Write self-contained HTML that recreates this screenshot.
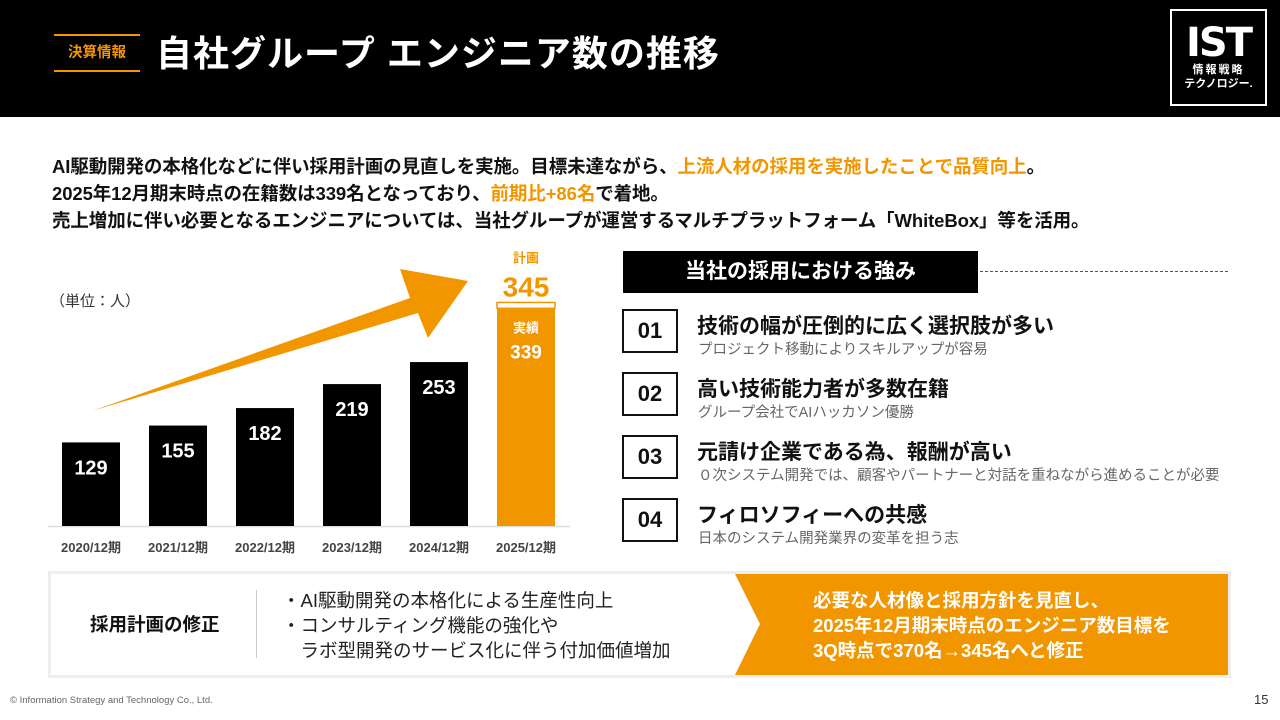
<!DOCTYPE html>
<html><head><meta charset="utf-8">
<style>
*{margin:0;padding:0;box-sizing:border-box}
body{width:1280px;height:720px;background:#fff;position:relative;overflow:hidden;font-family:"Liberation Sans","Noto Sans CJK JP",sans-serif;color:#111}
.abs{position:absolute}
.hdr{left:0;top:0;width:1280px;height:117px;background:#000}
.lead{left:52px;top:153px;font-size:18.5px;font-weight:700;line-height:27px;white-space:nowrap;letter-spacing:-0.1px}
.or{color:#f29600}
.num{width:56px;height:44px;border:2px solid #111;font-size:22px;font-weight:700;text-align:center;line-height:40px}
.pt-t{font-size:21px;font-weight:700;white-space:nowrap}
.pt-s{font-size:14.5px;color:#666;white-space:nowrap}
</style></head><body>
<div class="abs hdr"></div>
<div class="abs" style="left:54px;top:34px;width:86px;height:38px;border-top:2px solid #f29600;border-bottom:2px solid #f29600;color:#f29600;font-size:14.5px;font-weight:700;text-align:center;line-height:34px">決算情報</div>
<div class="abs" style="left:156px;top:25px;color:#fff;font-size:36px;font-weight:700;white-space:nowrap;letter-spacing:1px">自社グループ エンジニア数の推移</div>
<div class="abs" style="left:1170px;top:9px;width:97px;height:97px;border:2px solid #fff;color:#fff;text-align:center">
 <div style="font-size:40px;font-weight:900;line-height:40px;margin-top:12px;letter-spacing:-2px;font-family:'DejaVu Sans','Liberation Sans',sans-serif">IST</div>
 <div style="font-size:11px;font-weight:700;line-height:14px;letter-spacing:2px">情報戦略</div>
 <div style="font-size:11px;font-weight:700;line-height:14px">テクノロジー.</div>
</div>
<div class="abs lead">AI駆動開発の本格化などに伴い採用計画の見直しを実施。目標未達ながら、<span class="or">上流人材の採用を実施したことで品質向上</span>。<br>2025年12月期末時点の在籍数は339名となっており、<span class="or">前期比+86名</span>で着地。<br>売上増加に伴い必要となるエンジニアについては、当社グループが運営するマルチプラットフォーム「WhiteBox」等を活用。</div>
<div class="abs" style="left:50px;top:290px;font-size:15px;color:#333">（単位：人）</div>
<svg class="abs" id="chart" style="left:0;top:0" width="600" height="570"></svg>
<script>
const categories=["2020/12期","2021/12期","2022/12期","2023/12期","2024/12期","2025/12期"];
const values=[129,155,182,219,253,339];
const planValue=[345];
const svg=document.getElementById('chart');
const NS='http://www.w3.org/2000/svg';
const base=526,scale=0.648,x0=62,step=87,bw=58;
const y=v=>base-v*scale;
const x=i=>x0+i*step;
function mk(t,a){const e=document.createElementNS(NS,t);for(const k in a)e.setAttribute(k,a[k]);svg.appendChild(e);return e;}
const ar=mk('polygon',{points:"92,411 410,298 400,269 468,281 428,338 418,313",fill:'#f29600'});


const ax=mk('line',{x1:48,x2:570,y1:base+0.5,y2:base+0.5,stroke:'#ddd','stroke-width':1.5});


values.forEach((v,i)=>{
 const last=i===values.length-1;
 if(last){
  const p=mk('rect',{x:x(i),y:y(planValue[0]),width:bw,height:y(v)-y(planValue[0])+2,fill:'#fff',stroke:'#f29600','stroke-width':1.5});
  
  
 }
 const r=mk('rect',{x:x(i),y:last?y(v)+2:y(v),width:bw,height:last?base-y(v)-2:base-y(v),fill:last?'#f29600':'#000'});
 
 
 const tl=mk('text',{x:x(i)+bw/2,y:last?y(v)+52:Math.min(y(v)+32,base-50),'text-anchor':'middle',fill:'#fff','font-size':last?19:20,'font-weight':700});
 tl.textContent=v;
 
 
 const c=mk('text',{x:x(i)+bw/2,y:552,'text-anchor':'middle',fill:'#444','font-size':13,'font-weight':700});
 c.textContent=categories[i];
 
 
 if(last){
  const a=mk('text',{x:x(i)+bw/2,y:y(v)+26,'text-anchor':'middle',fill:'#fff','font-size':13,'font-weight':700});
  a.textContent='実績';
  
  
  const b=mk('text',{x:x(i)+bw/2,y:y(planValue[0])-6,'text-anchor':'middle',fill:'#f29600','font-size':28,'font-weight':700});
  b.textContent=planValue[0];
  
  
  const d=mk('text',{x:x(i)+bw/2,y:y(planValue[0])-40,'text-anchor':'middle',fill:'#f29600','font-size':13,'font-weight':700});
  d.textContent='計画';
  
  
 }
});
</script>
<div class="abs" style="left:623px;top:251px;width:355px;height:42px;background:#000;color:#fff;font-size:21px;font-weight:700;line-height:42px;padding-left:62px">当社の採用における強み</div>
<div class="abs" style="left:980px;top:271px;width:248px;border-top:1.5px dashed #555"></div>
<div class="abs num" style="left:622px;top:309px">01</div>
<div class="abs pt-t" style="left:697px;top:310px">技術の幅が圧倒的に広く選択肢が多い</div>
<div class="abs pt-s" style="left:698px;top:338px">プロジェクト移動によりスキルアップが容易</div>
<div class="abs num" style="left:622px;top:372px">02</div>
<div class="abs pt-t" style="left:697px;top:373px">高い技術能力者が多数在籍</div>
<div class="abs pt-s" style="left:698px;top:401px">グループ会社でAIハッカソン優勝</div>
<div class="abs num" style="left:622px;top:435px">03</div>
<div class="abs pt-t" style="left:697px;top:436px">元請け企業である為、報酬が高い</div>
<div class="abs pt-s" style="left:698px;top:464px">０次システム開発では、顧客やパートナーと対話を重ねながら進めることが必要</div>
<div class="abs num" style="left:622px;top:498px">04</div>
<div class="abs pt-t" style="left:697px;top:499px">フィロソフィーへの共感</div>
<div class="abs pt-s" style="left:698px;top:527px">日本のシステム開発業界の変革を担う志</div>
<div class="abs" style="left:48px;top:571px;width:1183px;height:107px;border:3px solid #eee;background:#fff"></div>
<svg class="abs" style="left:0;top:0" width="1280" height="720"><polygon points="735,574 1228,574 1228,675 735,675 760,624" fill="#f29600"/></svg>
<div class="abs" style="left:90px;top:611px;font-size:18.5px;font-weight:700">採用計画の修正</div>
<div class="abs" style="left:256px;top:590px;height:68px;border-left:1px solid #ccc"></div>
<div class="abs" style="left:282px;top:588px;font-size:18.5px;line-height:25px;color:#222;white-space:nowrap">・AI駆動開発の本格化による生産性向上<br>・コンサルティング機能の強化や<br>　ラボ型開発のサービス化に伴う付加価値増加</div>
<div class="abs" style="left:813px;top:588px;font-size:18.5px;font-weight:700;line-height:25px;color:#fff;white-space:nowrap">必要な人材像と採用方針を見直し、<br>2025年12月期末時点のエンジニア数目標を<br>3Q時点で370名→345名へと修正</div>
<div class="abs" style="left:10px;top:695px;font-size:9.5px;color:#666">© Information Strategy and Technology Co., Ltd.</div>
<div class="abs" style="left:1254px;top:692px;font-size:13px;color:#333">15</div>
</body></html>
